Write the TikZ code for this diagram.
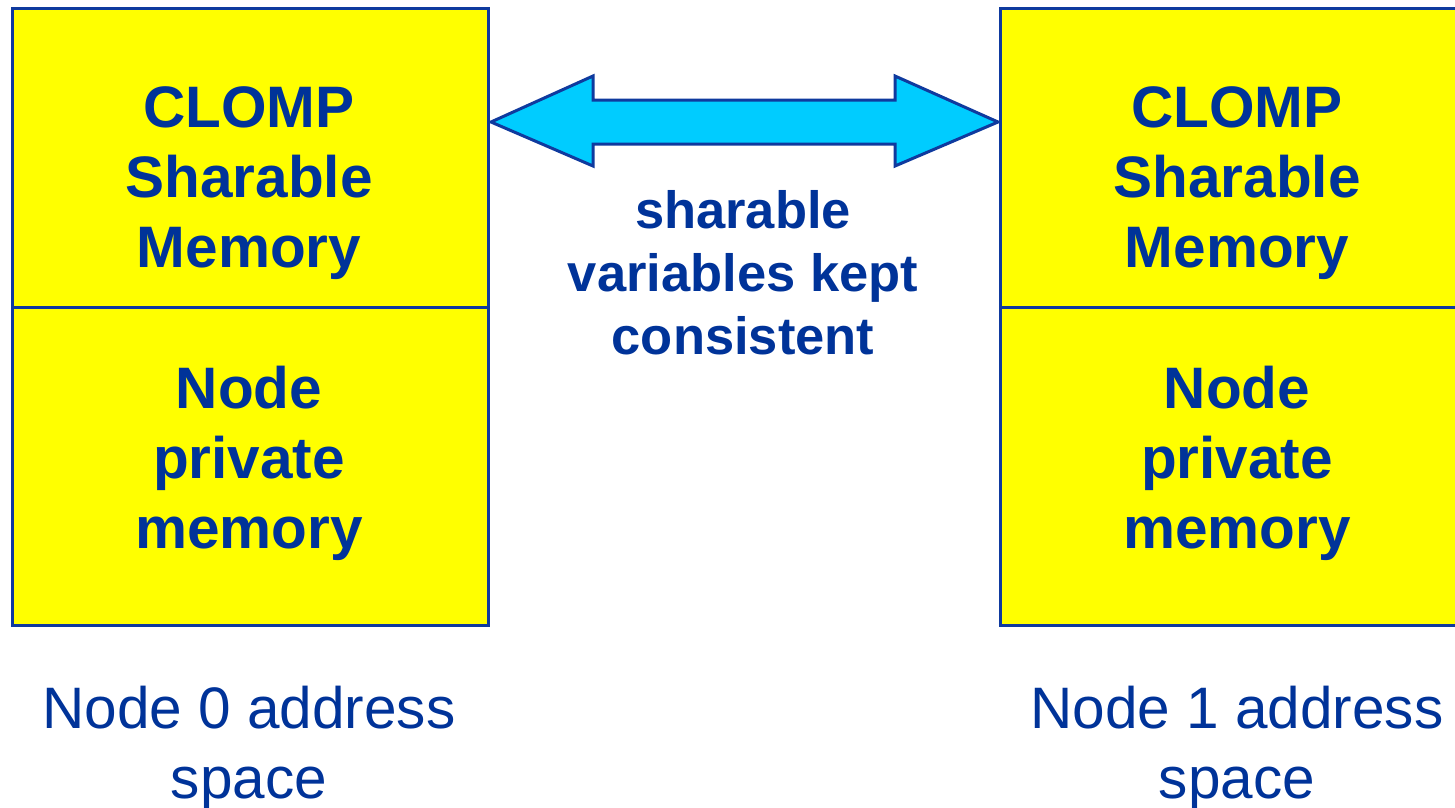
\documentclass[tikz,border=0pt]{standalone}
\usepackage{fontspec}
\setmainfont{Liberation Sans}
\usetikzlibrary{calc}
\definecolor{txtblue}{HTML}{003399}
\definecolor{edgeblue}{HTML}{0F3A9E}
\definecolor{boxyellow}{HTML}{FFFF00}
\definecolor{arrowcyan}{HTML}{00CCFF}
\tikzset{
  membox/.style={draw=edgeblue, line width=3pt, fill=boxyellow, inner sep=0pt, anchor=north west},
  boxtext/.style={text=txtblue, font=\bfseries\fontsize{58.5}{70}\selectfont, align=center, inner sep=0pt, anchor=base},
  midtext/.style={text=txtblue, font=\bfseries\fontsize{52.5}{63}\selectfont, align=center, inner sep=0pt, anchor=base},
  captext/.style={text=txtblue, font=\fontsize{58.5}{70}\selectfont, align=center, inner sep=0pt, anchor=base},
  linkarrow/.style={draw=edgeblue, line width=3pt, fill=arrowcyan, line join=miter}
}
\begin{document}
\begin{tikzpicture}[x=1pt,y=-1pt]
\useasboundingbox (0,0) rectangle (1455,807);
\clip (0,0) rectangle (1455,807);
% boxes
\node[membox, minimum width=476pt, minimum height=299pt] (lt) at (11,7) {};
\node[membox, minimum width=476pt, minimum height=318pt] (lb) at (11,306) {};
\node[membox, minimum width=476pt, minimum height=299pt] (rt) at (999,7) {};
\node[membox, minimum width=476pt, minimum height=318pt] (rb) at (999,306) {};
% box texts
\node[boxtext] (lt1) at (249,127) {CLOMP};
\node[boxtext] (lt2) at (249,197) {Sharable};
\node[boxtext] (lt3) at (249,267) {Memory};
\node[boxtext] (lb1) at (249,408) {Node};
\node[boxtext] (lb2) at (249,478) {private};
\node[boxtext] (lb3) at (249,548) {memory};
\node[boxtext] (rt1) at (1237,127) {CLOMP};
\node[boxtext] (rt2) at (1237,197) {Sharable};
\node[boxtext] (rt3) at (1237,267) {Memory};
\node[boxtext] (rb1) at (1237,408) {Node};
\node[boxtext] (rb2) at (1237,478) {private};
\node[boxtext] (rb3) at (1237,548) {memory};
% middle text
\node[midtext] (m1) at (743,228) {sharable};
\node[midtext] (m2) at (743,291) {variables kept};
\node[midtext] (m3) at (743,354) {consistent};
% captions
\node[captext] (c01) at (249,728) {Node 0 address};
\node[captext] (c02) at (249,798) {space};
\node[captext] (c11) at (1237,728) {Node 1 address};
\node[captext] (c12) at (1237,798) {space};
% double arrow between the boxes
\coordinate (a) at ($(lt.north east)+(1,115)$);
\coordinate (b) at ($(rt.north west)+(-1,115)$);
\draw[linkarrow] (a) -- ($(a)+(102,-46)$) -- ($(a)+(102,-22)$) -- ($(b)+(-103,-22)$) -- ($(b)+(-103,-46)$) -- (b)
  -- ($(b)+(-103,44)$) -- ($(b)+(-103,22)$) -- ($(a)+(102,22)$) -- ($(a)+(102,44)$) -- cycle;
\end{tikzpicture}
\end{document}
